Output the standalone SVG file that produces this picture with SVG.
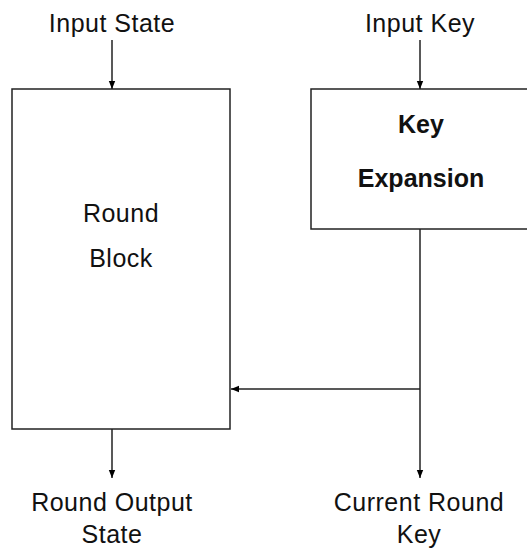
<svg xmlns="http://www.w3.org/2000/svg" width="527" height="550" viewBox="0 0 527 550">
<style>
.box{fill:#fff;stroke:#222;stroke-width:1.5}
.ln{fill:none;stroke:#222;stroke-width:1.5}
.t{font-family:"Liberation Sans",Arial,sans-serif;font-size:25px;letter-spacing:0.5px;fill:#111;text-anchor:middle}
.b{font-weight:bold;font-size:25px;letter-spacing:0}
</style>
<defs>
<marker id="ah" viewBox="0 0 10 10" refX="10" refY="5" markerWidth="8" markerHeight="8" markerUnits="userSpaceOnUse" orient="auto">
<path d="M0,1 L10,5 L0,9 Z" fill="#000"/>
</marker>
</defs>
<rect width="527" height="550" fill="#fff"/>
<g id="round-block">
<rect class="box" x="12" y="89" width="218" height="340"/>
<text class="t" x="121" y="222">Round</text>
<text class="t" x="121" y="267">Block</text>
</g>
<g id="key-expansion">
<rect class="box" x="311" y="89" width="225" height="140"/>
<text class="t b" x="421" y="133">Key</text>
<text class="t b" x="421" y="187">Expansion</text>
</g>
<g id="labels">
<text class="t" x="112" y="32">Input State</text>
<text class="t" x="420" y="32">Input Key</text>
<text class="t" x="112" y="511">Round Output</text>
<text class="t" x="112" y="543">State</text>
<text class="t" x="419" y="511">Current Round</text>
<text class="t" x="419" y="543">Key</text>
</g>
<g id="connectors">
<line class="ln" x1="112" y1="40" x2="112" y2="89" marker-end="url(#ah)"/>
<line class="ln" x1="420" y1="40" x2="420" y2="89" marker-end="url(#ah)"/>
<line class="ln" x1="112" y1="429" x2="112" y2="478" marker-end="url(#ah)"/>
<line class="ln" x1="420" y1="229" x2="420" y2="478" marker-end="url(#ah)"/>
<line class="ln" x1="420" y1="389" x2="231" y2="389" marker-end="url(#ah)"/>
</g>
</svg>
